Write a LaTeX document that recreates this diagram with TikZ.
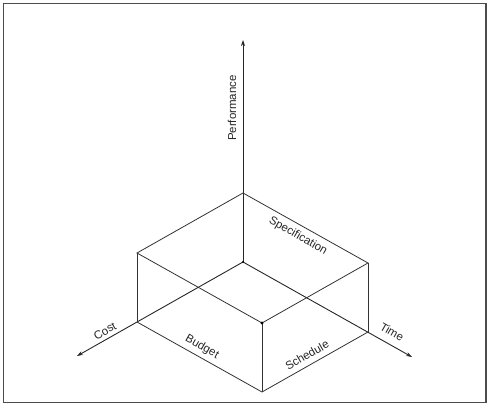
\documentclass[tikz,border=0pt]{standalone}
\usepackage{fontspec}
\setmainfont{Liberation Sans}
\usetikzlibrary{arrows.meta}
\begin{document}
\begin{tikzpicture}[x=1pt,y=1pt,
  edge/.style={draw=black!80,line width=0.8pt},
  axis/.style={draw=black!85,line width=0.9pt,-{Stealth[length=6pt,width=4pt]}},
  lbl/.style={font=\fontsize{11.5}{12}\selectfont,text=black!85,inner sep=0pt},
  frame/.style={draw=black!70,line width=1.2pt}]
\useasboundingbox (0,0) rectangle (487,404);
\draw[frame] (3.6,1.6) rectangle (486,400.4);
% box corners
\coordinate (O)  at (243,142);
\coordinate (BT) at (243,211);
\coordinate (LB) at (137,82);
\coordinate (LT) at (137,151);
\coordinate (RB) at (368,72);
\coordinate (RT) at (368,141);
\coordinate (FB) at (262,12);
\coordinate (FT) at (262,81);
\coordinate (P)  at (243,364);
\coordinate (C)  at (77,48);
\coordinate (T)  at (412,47);
% axes
\draw[axis] (O) -- (P);
\draw[axis] (O) -- (C);
\draw[axis] (O) -- (T);
% top face
\draw[edge] (BT) -- (LT) -- (FT) -- (RT) -- cycle;
% verticals
\draw[edge] (LT) -- (LB);
\draw[edge] (RT) -- (RB);
\draw[edge] (FT) -- (FB);
% bottom front edges
\draw[edge] (LB) -- (FB) -- (RB);
% dots
\fill[black] (FT) circle (1.7pt);
\fill[black] (O) circle (1.1pt);
% labels
\node[lbl,rotate=90] (perf) at (232,296) {Performance};
\node[lbl,rotate=-30] (spec) at (298,168) {Specification};
\node[lbl,rotate=-30] (budg) at (202,57) {Budget};
\node[lbl,rotate=30] (sched) at (307,49) {Schedule};
\node[lbl,rotate=30] (cost) at (105,73) {Cost};
\node[lbl,rotate=-30] (time) at (392,72) {Time};
\end{tikzpicture}
\end{document}
